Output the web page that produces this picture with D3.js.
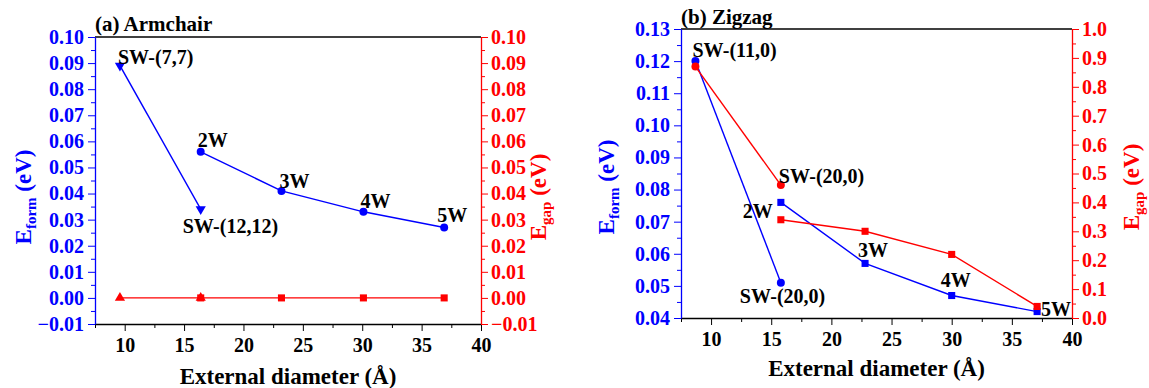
<!DOCTYPE html>
<html><head><meta charset="utf-8">
<script src="https://cdn.jsdelivr.net/npm/d3@7"></script>
<style>body{margin:0;background:#fff;}</style></head>
<body><svg id="c" width="1149" height="388" font-family="Liberation Serif" font-weight="bold"></svg>
<script>
// ---- data: (a) Armchair ----
const armSWx = [9.6, 16.4];
const armSWform = [0.089, 0.034];
const armSWgap = [0.0, 0.0];
const armMWx = [16.4, 23.2, 30.1, 36.9];
const armMWform = [0.056, 0.041, 0.033, 0.027];
const armMWgap = [0.0, 0.0, 0.0, 0.0];
const armLabels = ["SW-(7,7)", "SW-(12,12)", "2W", "3W", "4W", "5W"];
// ---- data: (b) Zigzag ----
const zigSWx = [8.7, 15.8];
const zigSWform = [0.120, 0.051];
const zigSWgap = [0.87, 0.46];
const zigMWx = [15.8, 22.8, 30.0, 37.1];
const zigMWform = [0.076, 0.057, 0.047, 0.042];
const zigMWgap = [0.34, 0.30, 0.22, 0.04];
const zigLabels = ["SW-(11,0)", "SW-(20,0)", "SW-(20,0)", "2W", "3W", "4W", "5W"];
// ---- ticks ----
const xTicks = [10, 15, 20, 25, 30, 35, 40];
const armYTicks = [-0.01,0,0.01,0.02,0.03,0.04,0.05,0.06,0.07,0.08,0.09,0.10];
const zigYTicks = [0.04,0.05,0.06,0.07,0.08,0.09,0.10,0.11,0.12,0.13];
const zigGapTicks = [0,0.1,0.2,0.3,0.4,0.5,0.6,0.7,0.8,0.9,1.0];

const BLUE = "#0000ff", RED = "#ff0000";
const FONT = "Liberation Serif";
const svg = d3.select("#c");

function zip(xs, ys){ return xs.map((x,i)=>[x, ys[i]]); }
function range(a,b,s){ const r=[]; for(let v=a; v<=b+1e-9; v+=s) r.push(+v.toFixed(4)); return r; }

function panel(o){
  const g = svg.append("g");
  const x = d3.scaleLinear().domain([7.5, 40]).range([o.L, o.R]);
  const yl = d3.scaleLinear().domain(o.ylDom).range([o.B, o.T]);
  const yr = d3.scaleLinear().domain(o.yrDom).range([o.B, o.T]);
  g.append("line").attr("x1",o.L).attr("x2",o.R).attr("y1",o.T).attr("y2",o.T).attr("stroke","#000").attr("stroke-width",1.3);
  // x axis
  const xMinor = range(7.5, 40, 2.5).filter(v => !xTicks.includes(v));
  const gx = g.append("g").attr("transform",`translate(0,${o.B})`);
  gx.call(d3.axisBottom(x).tickValues(xTicks).tickSize(7).tickSizeOuter(0).tickFormat(d3.format("d")));
  g.append("g").attr("transform",`translate(0,${o.B})`).call(d3.axisBottom(x).tickValues(xMinor).tickSize(4).tickSizeOuter(0).tickFormat(""))
    .call(s=>s.select(".domain").remove()).selectAll("line").attr("stroke","#000");
  gx.select(".domain").attr("stroke","#000").attr("stroke-width",1.3);
  gx.selectAll("text").attr("font-size",20).attr("dy","0.9em").attr("fill","#000");
  // left axis
  const gl = g.append("g").attr("transform",`translate(${o.L},0)`);
  gl.call(d3.axisLeft(yl).tickValues(o.ylTicks).tickSize(7).tickSizeOuter(0).tickFormat(d3.format(o.ylFmt)));
  gl.select(".domain").attr("stroke",BLUE).attr("stroke-width",1.3);
  gl.selectAll("line").attr("stroke",BLUE);
  gl.selectAll("text").attr("font-size",20).attr("fill",BLUE).attr("dx","-1");
  const ylMinor = o.ylTicks.slice(0,-1).map((v,i)=>(v+o.ylTicks[i+1])/2);
  g.append("g").attr("transform",`translate(${o.L},0)`).call(d3.axisLeft(yl).tickValues(ylMinor).tickSize(4).tickFormat(""))
    .call(s=>s.select(".domain").remove()).selectAll("line").attr("stroke",BLUE);
  // right axis
  const gr = g.append("g").attr("transform",`translate(${o.R},0)`);
  gr.call(d3.axisRight(yr).tickValues(o.yrTicks).tickSize(7).tickSizeOuter(0).tickFormat(d3.format(o.yrFmt)));
  gr.select(".domain").attr("stroke",RED).attr("stroke-width",1.3);
  gr.selectAll("line").attr("stroke",RED);
  gr.selectAll("text").attr("font-size",20).attr("fill",RED);
  const yrMinor = o.yrTicks.slice(0,-1).map((v,i)=>(v+o.yrTicks[i+1])/2);
  g.append("g").attr("transform",`translate(${o.R},0)`).call(d3.axisRight(yr).tickValues(yrMinor).tickSize(4).tickFormat(""))
    .call(s=>s.select(".domain").remove()).selectAll("line").attr("stroke",RED);
  g.selectAll("g").attr("font-family",FONT).attr("font-weight","bold");

  g.append("text").attr("x",o.L).attr("y",o.titleY).attr("font-size",21).attr("fill","#000").text(o.title);
  g.append("text").attr("x",(o.L+o.R)/2).attr("y",o.xlabY).attr("text-anchor","middle").attr("font-size",23).attr("fill","#000").text("External diameter (Å)");
  function ylab(xp, yc, col, sub){
    const t = g.append("text").attr("transform",`translate(${xp},${yc}) rotate(-90)`).attr("text-anchor","middle").attr("font-size",23).attr("fill",col);
    t.append("tspan").text("E");
    t.append("tspan").attr("font-size",15).attr("dy",5).text(sub);
    t.append("tspan").attr("dy",-5).text(" (eV)");
  }
  ylab(o.ylabLx, o.ylabY, BLUE, "form");
  ylab(o.ylabRx, o.ylabY, RED, "gap");

  const line = (ys)=> d3.line().x(d=>x(d[0])).y(d=>ys(d[1]));
  o.series.forEach(s=>{
    const ys = s.axis==="l" ? yl : yr;
    const pts = zip(s.x, s.y);
    g.append("path").datum(pts).attr("d",line(ys)).attr("fill","none").attr("stroke",s.col).attr("stroke-width",1.4);
    const sym = d3.symbol().type(s.sym).size(s.size);
    g.selectAll(null).data(pts).enter().append("path")
      .attr("d",sym).attr("fill",s.col)
      .attr("transform",d=>`translate(${x(d[0])},${ys(d[1])}) rotate(${s.rot||0})`);
  });
  o.ann.forEach(a=>{
    g.append("text").attr("x",x(a.px)+a.dx).attr("y",(a.axis==="l"?yl:yr)(a.py)+a.dy)
      .attr("font-size",20).attr("fill","#000").text(a.t);
  });
  g.selectAll("text").attr("font-family",FONT).attr("font-weight","bold");
}

panel({
  L:95, R:481, T:37, B:324,
  ylDom:[-0.01,0.10], yrDom:[-0.01,0.10],
  ylTicks:armYTicks, yrTicks:armYTicks, ylFmt:".2f", yrFmt:".2f",
  title:"(a) Armchair", titleY:31, xlabY:384,
  ylabLx:31, ylabRx:546, ylabY:197,
  series:[
    {x:armSWx, y:armSWform, axis:"l", col:BLUE, sym:d3.symbolTriangle, size:45, rot:180},
    {x:armMWx, y:armMWform, axis:"l", col:BLUE, sym:d3.symbolCircle, size:50},
    {x:armSWx, y:armSWgap, axis:"r", col:RED, sym:d3.symbolTriangle, size:45},
    {x:armMWx, y:armMWgap, axis:"r", col:RED, sym:d3.symbolSquare, size:50}
  ],
  ann:[
    {t:armLabels[0], px:armSWx[0], py:armSWform[0], axis:"l", dx:-2, dy:-2},
    {t:armLabels[1], px:armSWx[1], py:armSWform[1], axis:"l", dx:-18, dy:24},
    {t:armLabels[2], px:armMWx[0], py:armMWform[0], axis:"l", dx:-3, dy:-5},
    {t:armLabels[3], px:armMWx[1], py:armMWform[1], axis:"l", dx:-2, dy:-3},
    {t:armLabels[4], px:armMWx[2], py:armMWform[2], axis:"l", dx:-3, dy:-4},
    {t:armLabels[5], px:armMWx[3], py:armMWform[3], axis:"l", dx:-7, dy:-5}
  ]
});

panel({
  L:681, R:1072, T:29, B:318,
  ylDom:[0.04,0.13], yrDom:[0,1.0],
  ylTicks:zigYTicks, yrTicks:zigGapTicks, ylFmt:".2f", yrFmt:".1f",
  title:"(b) Zigzag", titleY:24, xlabY:376,
  ylabLx:614, ylabRx:1139, ylabY:187,
  series:[
    {x:zigSWx, y:zigSWform, axis:"l", col:BLUE, sym:d3.symbolCircle, size:50},
    {x:zigMWx, y:zigMWform, axis:"l", col:BLUE, sym:d3.symbolSquare, size:50},
    {x:zigSWx, y:zigSWgap, axis:"r", col:RED, sym:d3.symbolCircle, size:50},
    {x:zigMWx, y:zigMWgap, axis:"r", col:RED, sym:d3.symbolSquare, size:50}
  ],
  ann:[
    {t:zigLabels[0], px:zigSWx[0], py:zigSWform[0], axis:"l", dx:-3, dy:-4},
    {t:zigLabels[1], px:zigSWx[1], py:zigSWgap[1], axis:"r", dx:-2, dy:-2},
    {t:zigLabels[2], px:zigSWx[1], py:zigSWform[1], axis:"l", dx:-41, dy:20},
    {t:zigLabels[3], px:zigMWx[0], py:zigMWform[0], axis:"l", dx:-38, dy:16},
    {t:zigLabels[4], px:zigMWx[1], py:zigMWform[1], axis:"l", dx:-7, dy:-6},
    {t:zigLabels[5], px:zigMWx[2], py:zigMWform[2], axis:"l", dx:-11, dy:-9},
    {t:zigLabels[6], px:zigMWx[3], py:zigMWform[3], axis:"l", dx:4, dy:4}
  ]
});
</script></body></html>
